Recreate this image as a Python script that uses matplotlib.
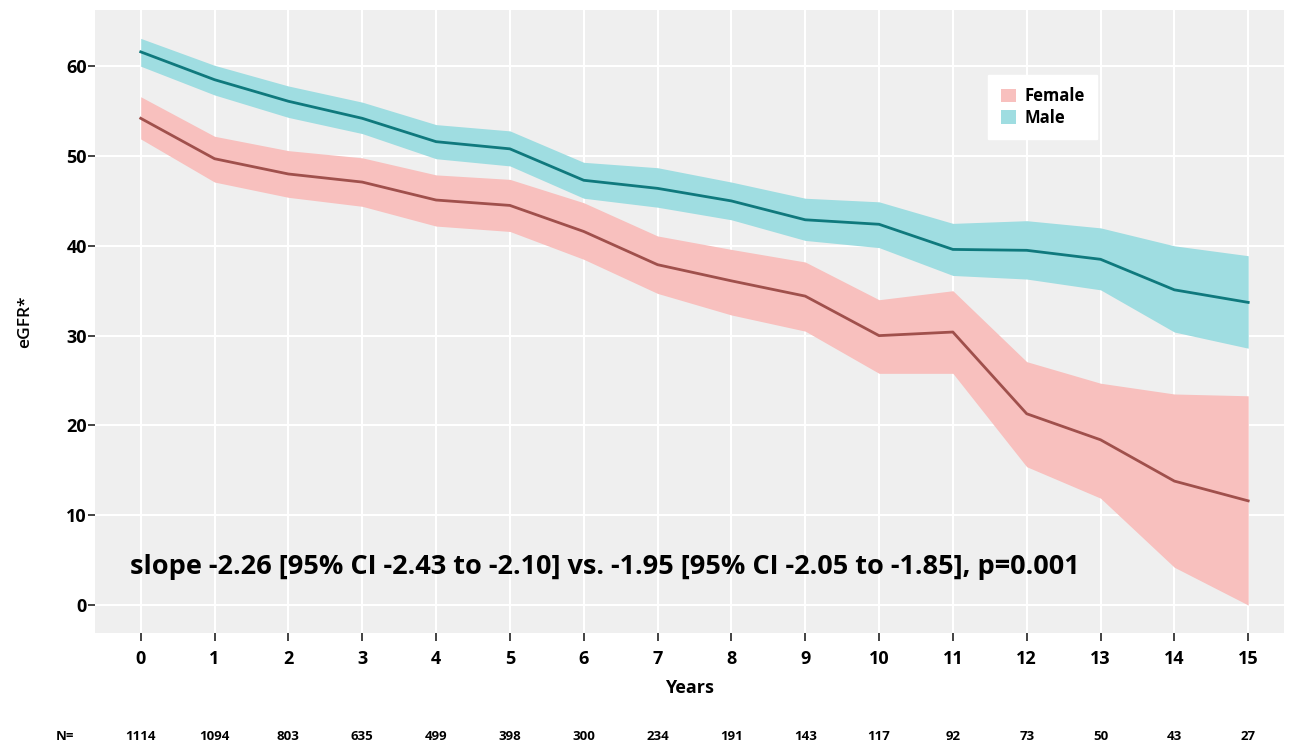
import matplotlib.pyplot as plt
from matplotlib.patches import Patch
from matplotlib.transforms import blended_transform_factory

years = list(range(16))
n_at_risk = [1114, 1094, 803, 635, 499, 398, 300, 234, 191, 143, 117, 92, 73, 50, 43, 27]

male = [61.6, 58.5, 56.1, 54.2, 51.6, 50.8, 47.3, 46.4, 45.0, 42.9, 42.4, 39.6, 39.5, 38.5, 35.1, 33.7]
male_hi = [63.1, 60.1, 57.8, 56.0, 53.5, 52.8, 49.3, 48.7, 47.1, 45.3, 44.9, 42.5, 42.8, 42.0, 40.0, 38.9]
male_lo = [60.0, 56.8, 54.3, 52.5, 49.7, 48.9, 45.3, 44.3, 42.9, 40.6, 39.8, 36.7, 36.3, 35.1, 30.4, 28.6]

female = [54.2, 49.7, 48.0, 47.1, 45.1, 44.5, 41.6, 37.9, 36.1, 34.4, 30.0, 30.4, 21.3, 18.4, 13.8, 11.6]
female_hi = [56.6, 52.2, 50.6, 49.8, 47.9, 47.4, 44.8, 41.1, 39.6, 38.2, 34.0, 35.0, 27.1, 24.7, 23.5, 23.3]
female_lo = [51.9, 47.1, 45.4, 44.4, 42.2, 41.6, 38.5, 34.7, 32.3, 30.5, 25.8, 25.8, 15.4, 11.9, 4.2, 0.0]

plt.rcParams['font.family'] = ['Open Sans', 'DejaVu Sans']

fig = plt.figure(figsize=(12.92, 7.48), dpi=100)
ax = fig.add_axes([0.0735, 0.1537, 0.9206, 0.8329])
ax.set_facecolor('#efefef')

ax.fill_between(years, female_lo, female_hi, color='#f8c0be', lw=0, zorder=2)
ax.fill_between(years, male_lo, male_hi, color='#9fdde1', lw=0, zorder=2)
ax.plot(years, female, color='#a0504c', lw=2, zorder=3)
ax.plot(years, male, color='#0f797d', lw=2, zorder=3)

ax.set_xlim(-0.62, 15.49)
ax.set_ylim(-3.12, 66.26)
ax.set_xticks(years)
ax.set_yticks(range(0, 61, 10))
ax.set_yticklabels([str(v) for v in range(0, 61, 10)], fontweight='bold', fontsize=13)
ax.set_xticklabels([str(v) for v in years], fontweight='bold', fontsize=13)
ax.tick_params(axis='y', length=5, width=1.2, color='#222222', pad=1)
ax.tick_params(axis='x', length=6, width=1.2, color='#222222', pad=6)
ax.grid(True, color='white', lw=1.5, zorder=1)
ax.set_axisbelow(True)
for s in ax.spines.values():
    s.set_visible(False)

ax.set_xlabel('Years', fontweight='bold', fontsize=13, labelpad=8)
ax.set_ylabel('eGFR*', fontweight='semibold', fontsize=12.5, labelpad=24)

ax.text(-0.15, 4.2, 'slope -2.26 [95% CI -2.43 to -2.10] vs. -1.95 [95% CI -2.05 to -1.85], p=0.001',
        fontsize=19.5, fontweight='bold', va='center', ha='left', zorder=4)

trans = blended_transform_factory(ax.transData, fig.transFigure)
ax.text(-1.02, 1 - 737 / 748, 'N=', transform=trans, fontsize=9.5, fontweight='bold',
        ha='center', va='center', clip_on=False)
for x, n in zip(years, n_at_risk):
    ax.text(x, 1 - 737 / 748, str(n), transform=trans, fontsize=9.5, fontweight='bold',
            ha='center', va='center', clip_on=False)

handles = [Patch(facecolor='#f8c0be', edgecolor='none', label='Female'),
           Patch(facecolor='#9fdde1', edgecolor='none', label='Male')]
leg = ax.legend(handles=handles, loc='upper left', bbox_to_anchor=(0.751, 0.896),
                borderaxespad=0, frameon=True, fancybox=False, framealpha=1, edgecolor='white',
                prop={'weight': 'bold', 'size': 12}, handlelength=0.9, handleheight=0.9,
                handletextpad=0.5, labelspacing=0.2, borderpad=0.75)

fig.savefig('out.png', dpi=100)
